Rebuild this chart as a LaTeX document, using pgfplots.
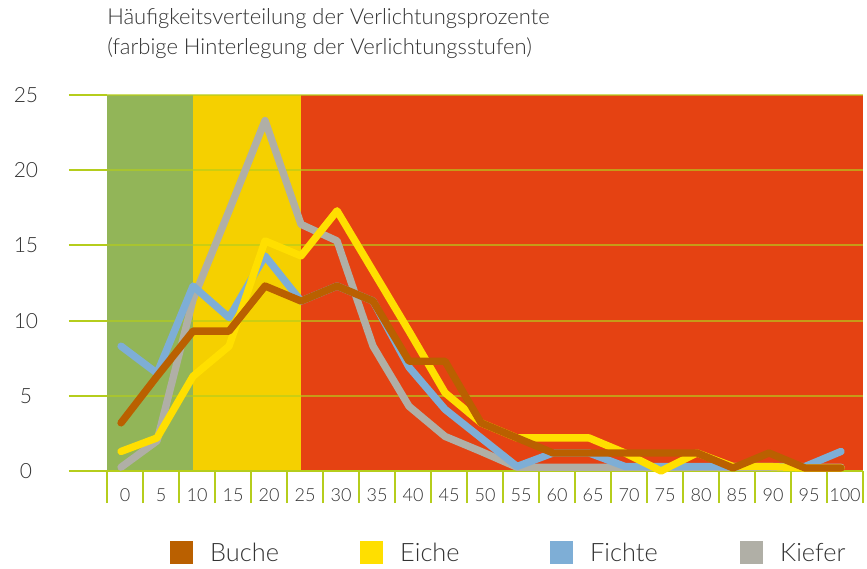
\documentclass[border=0pt]{standalone}
\usepackage{fontspec}
\setmainfont{Lato Light}
\usepackage{pgfplots}
\pgfplotsset{compat=1.18}
\definecolor{bggreen}{HTML}{92B558}
\definecolor{bgyellow}{HTML}{F5D000}
\definecolor{bgred}{HTML}{E54212}
\definecolor{limec}{HTML}{B5CD1C}
\definecolor{buche}{HTML}{BA6000}
\definecolor{eiche}{HTML}{FFDF00}
\definecolor{fichte}{HTML}{7EAED6}
\definecolor{kiefer}{HTML}{B0AFA6}
\definecolor{txt}{HTML}{333333}
\begin{document}
\begin{tikzpicture}[x=0.75pt,y=0.75pt]
\useasboundingbox (-107,-97) rectangle (760,471);
\begin{axis}[at={(0,0)}, anchor=south west, scale only axis,
  width=567pt, height=282pt,
  xmin=-0.39, xmax=20.61, ymin=0, ymax=25, clip=false,
  axis line style={draw=none},
  /pgf/number format/assume math mode=true,
  tick pos=left, tick align=outside,
  major tick length=0pt,
  ytick={0,5,10,15,20,25},
  yticklabel style={anchor=center, xshift=-60.75pt, font=\fontsize{15.75}{18}\selectfont, text=txt},
  xtick={0.11,1.11,2.11,3.11,4.11,5.11,6.11,7.11,8.11,9.11,10.11,11.11,12.11,13.11,14.11,15.11,16.11,17.11,18.11,19.11,20.11},
  xticklabels={0,5,10,15,20,25,30,35,40,45,50,55,60,65,70,75,80,85,90,95,100},
  xticklabel style={anchor=center, yshift=-18pt, font=\fontsize{13.5}{16}\selectfont, text=txt},
  minor xtick={-0.39,0.61,1.61,2.61,3.61,4.61,5.61,6.61,7.61,8.61,9.61,10.61,11.61,12.61,13.61,14.61,15.61,16.61,17.61,18.61,19.61,20.61},
  minor tick length=24pt,
  minor tick style={draw=limec, line width=1.5pt},
  every axis plot/.append style={line width=5.5pt, line join=round, line cap=round, mark=none},
  legend image code/.code={\fill[#1, draw=none, sharp corners] (0pt,-8.625pt) rectangle (17.25pt,8.625pt);},
  reverse legend,
  legend columns=4,
  legend style={at={(axis description cs:0.0833,-0.218)}, anchor=west, draw=none, fill=none, inner sep=0pt,
    nodes={inner sep=0pt, text=txt, font=\fontsize{19}{22}\selectfont},
    /tikz/every odd column/.append style={column sep=12.75pt},
    /tikz/every even column/.append style={column sep=22.5pt}},
]
\fill[bggreen] (axis cs:-0.39,0) rectangle (axis cs:2,25);
\fill[bgyellow] (axis cs:2,0) rectangle (axis cs:5,25);
\fill[bgred] (axis cs:5,0) rectangle (axis cs:20.61,25);
\pgfplotsinvokeforeach{5,10,15,20,25}{
  \draw[limec, line width=1.5pt, opacity=0.65] (axis cs:-0.39,#1) -- (axis cs:20.61,#1);
  \draw[limec, line width=1.5pt] ([xshift=-28.5pt]axis cs:-0.39,#1) -- (axis cs:-0.39,#1);
}
\draw[limec, line width=1.5pt] ([xshift=-28.5pt]axis cs:-0.39,0) -- (axis cs:20.61,0);

\addplot[color=kiefer] coordinates {(0,0.25) (1,2.0) (2,11.4) (3,17.3) (4,23.3) (5,16.4) (6,15.3) (7,8.3) (8,4.3) (9,2.3) (10,1.3) (11,0.25) (12,0.25) (13,0.25) (14,0.25) (15,0.25) (16,0.25) (17,0.25) (18,0.25) (19,0.25) (20,0.25)};
\addlegendentry{\makebox[90pt][l]{Kiefer}}
\addplot[color=fichte] coordinates {(0,8.3) (1,6.5) (2,12.3) (3,10.2) (4,14.3) (5,11.3) (6,12.3) (7,11.3) (8,6.9) (9,4.1) (10,2.2) (11,0.3) (12,1.2) (13,1.2) (14,0.3) (15,0.3) (16,0.3) (17,0.3) (18,0.3) (19,0.3) (20,1.3)};
\addlegendentry{\makebox[90pt][l]{Fichte}}
\addplot[color=eiche] coordinates {(0,1.3) (1,2.2) (2,6.3) (3,8.3) (4,15.3) (5,14.3) (6,17.3) (7,13.3) (8,9.3) (9,5.2) (10,3.2) (11,2.2) (12,2.2) (13,2.2) (14,1.2) (15,0.0) (16,1.2) (17,0.3) (18,0.3) (19,0.2) (20,0.2)};
\addlegendentry{\makebox[90pt][l]{Eiche}}
\addplot[color=buche] coordinates {(0,3.2) (1,6.3) (2,9.3) (3,9.3) (4,12.3) (5,11.3) (6,12.3) (7,11.3) (8,7.3) (9,7.3) (10,3.2) (11,2.2) (12,1.2) (13,1.2) (14,1.2) (15,1.2) (16,1.2) (17,0.2) (18,1.2) (19,0.2) (20,0.2)};
\addlegendentry{\makebox[90pt][l]{Buche}}
\end{axis}
\node[anchor=base west, inner sep=0pt, text=txt, font=\fontsize{16.5}{19}\selectfont] at (0,446) {Häufigkeitsverteilung der Verlichtungsprozente};
\node[anchor=base west, inner sep=0pt, text=txt, font=\fontsize{16.5}{19}\selectfont] at (0,416) {(farbige Hinterlegung der Verlichtungsstufen)};
\end{tikzpicture}
\end{document}
